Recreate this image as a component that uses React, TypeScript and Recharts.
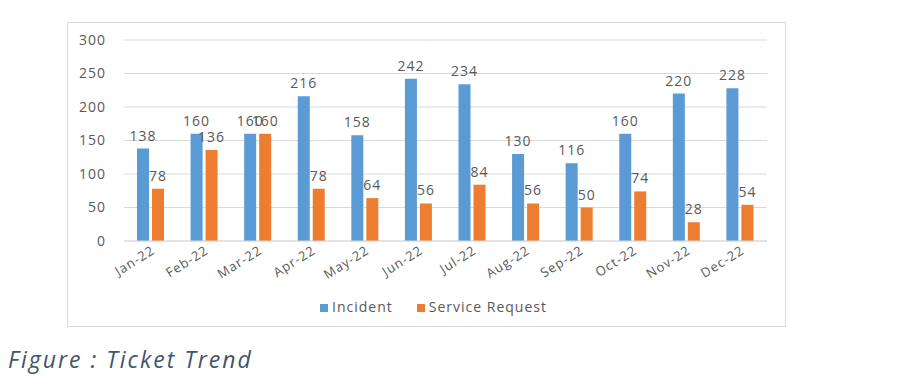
import { Bar, BarChart, CartesianGrid, LabelList, Legend, XAxis, YAxis } from 'recharts';

const months = ['Jan-22', 'Feb-22', 'Mar-22', 'Apr-22', 'May-22', 'Jun-22', 'Jul-22', 'Aug-22', 'Sep-22', 'Oct-22', 'Nov-22', 'Dec-22'];
const incident = [138, 160, 160, 216, 158, 242, 234, 130, 116, 160, 220, 228];
const serviceRequest = [78, 136, 160, 78, 64, 56, 84, 56, 50, 74, 28, 54];
const yTicks = [0, 50, 100, 150, 200, 250, 300];

const data = months.map((month, i) => ({
  month,
  incident: incident[i],
  service: serviceRequest[i],
}));

const font = '"Open Sans", sans-serif';
const grey = '#595959';

const App = () => {
  return (
    <div style={{ position: 'relative', width: 903, height: 388, margin: -8, background: '#fff' }}>
      <div
        style={{
          position: 'absolute',
          left: 67,
          top: 22,
          width: 719,
          height: 305,
          border: '1px solid #d9d9d9',
          boxSizing: 'border-box',
        }}
      >
        <BarChart
          width={719}
          height={305}
          data={data}
          margin={{ top: 17, right: 20, left: 0, bottom: 12 }}
          barSize={12}
          barGap={3}
          style={{ fontFamily: font, letterSpacing: '1px' }}
        >
          <CartesianGrid vertical={false} stroke="#d9d9d9" />
          <XAxis
            dataKey="month"
            stroke="#d9d9d9"
            tickLine={false}
            interval={0}
            angle={-32}
            textAnchor="end"
            height={56}
            tick={{ fill: grey, fontSize: 13, dy: -4 }}
          />
          <YAxis
            domain={[0, 300]}
            ticks={yTicks}
            width={56}
            axisLine={false}
            tickLine={false}
            tickMargin={12}
            tick={{ fill: grey, fontSize: 14 }}
          />
          <Legend
            iconType="square"
            iconSize={8}
            wrapperStyle={{ fontSize: 14, color: grey, paddingLeft: 21 }}
            formatter={(v, _e, i) => (
              <span style={{ color: grey, marginRight: i === 0 ? 14 : 0 }}>{v}</span>
            )}
          />
          <Bar dataKey="incident" name="Incident" fill="#5B9BD5" isAnimationActive={false}>
            <LabelList dataKey="incident" position="top" offset={8} fill={grey} fontSize={14} />
          </Bar>
          <Bar dataKey="service" name="Service Request" fill="#ED7D31" isAnimationActive={false}>
            <LabelList dataKey="service" position="top" offset={8} fill={grey} fontSize={14} />
          </Bar>
        </BarChart>
      </div>
      <div
        style={{
          position: 'absolute',
          left: 8,
          top: 343,
          fontFamily: font,
          fontStyle: 'italic',
          fontSize: 23,
          letterSpacing: '2px',
          color: '#44546A',
        }}
      >
        Figure : Ticket Trend
      </div>
    </div>
  );
};

export default App;
